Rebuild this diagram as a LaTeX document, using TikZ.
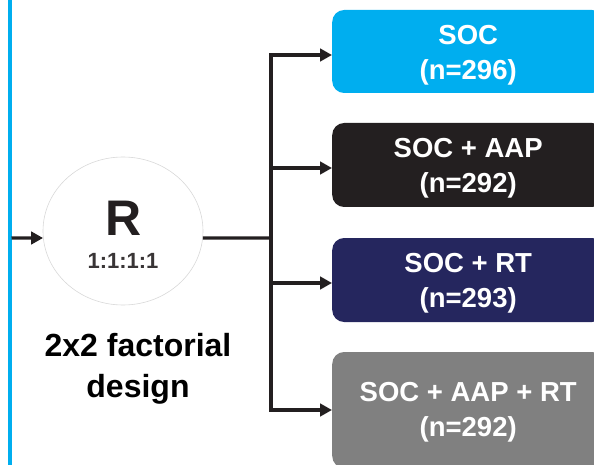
\documentclass[tikz,border=0pt]{standalone}
\usepackage{fontspec}
\setmainfont{Liberation Sans}
\usetikzlibrary{arrows.meta,shapes.geometric}
\definecolor{cyanb}{HTML}{00AEEF}
\definecolor{darkb}{HTML}{231F20}
\definecolor{navyb}{HTML}{25265E}
\definecolor{grayb}{HTML}{808080}
\definecolor{ringc}{HTML}{D8D8D8}
\tikzset{
  conn/.style={draw=darkb, line width=3.4pt},
  arr/.style={conn, -{Triangle[length=12pt,width=12.5pt]}},
  armbox/.style={rounded corners=12pt, minimum width=272pt, anchor=west, inner sep=0pt},
  armtext/.style={text=white, font=\fontsize{27.5}{35}\selectfont\bfseries, align=center, inner sep=0pt},
}
\begin{document}
\begin{tikzpicture}[x=1pt,y=-1pt]
\useasboundingbox (0,0) rectangle (594,465);
\clip (0,0) rectangle (594,465);
% left blue line
\coordinate (blt) at (9.5,-5);
\coordinate (blb) at (9.5,470);
\draw[cyanb, line width=4pt] (blt) -- (blb);
% randomisation ellipse
\node[ellipse, draw=ringc, line width=0.6pt, minimum width=160pt, minimum height=148pt, inner sep=0pt] (R) at (123,231) {};
\node[font=\fontsize{50}{50}\selectfont\bfseries, text=darkb, inner sep=0pt] (Rl) at (124,218.5) {R};
\node[font=\fontsize{22}{22}\selectfont\bfseries, text=darkb!90!white, inner sep=0pt] (ratio) at (123,260.5) {1:1:1:1};
\node[font=\fontsize{32}{41}\selectfont\bfseries, text=black, align=center, inner sep=0pt] (design) at (138,369) {2x2 factorial\\design};
% boxes
\node[armbox, fill=cyanb, minimum height=83pt] (b1) at (332,51.5) {};
\node[armbox, fill=darkb, minimum height=84pt] (b2) at (332,165) {};
\node[armbox, fill=navyb, minimum height=84pt] (b3) at (332,280) {};
\node[armbox, fill=grayb, minimum height=116pt] (b4) at (332,410) {};
\node[armtext] (t1) at ([yshift=-3.5pt]b1.center) {SOC\\(n=296)};
\node[armtext] (t2) at ([yshift=-3.5pt]b2.center) {SOC + AAP\\(n=292)};
\node[armtext] (t3) at ([yshift=-3.5pt]b3.center) {SOC + RT\\(n=293)};
\node[armtext] (t4) at ([yshift=-2pt]b4.center) {SOC + AAP + RT\\(n=292)};
% connectors
\coordinate (in) at (11.5,238);
\draw[arr] (in) -- (R.185);
\coordinate (jc) at (271,238);
\coordinate (j1) at (271,55);
\coordinate (j2) at (271,168);
\coordinate (j3) at (271,283);
\coordinate (j4) at (271,410);
\draw[conn] (R.355) -- (jc);
\draw[conn, line cap=rect] (j1) -- (j4);
\draw[arr] (j1) -- (j1 -| b1.west);
\draw[arr] (j2) -- (j2 -| b2.west);
\draw[arr] (j3) -- (j3 -| b3.west);
\draw[arr] (j4) -- (j4 -| b4.west);
\end{tikzpicture}
\end{document}
